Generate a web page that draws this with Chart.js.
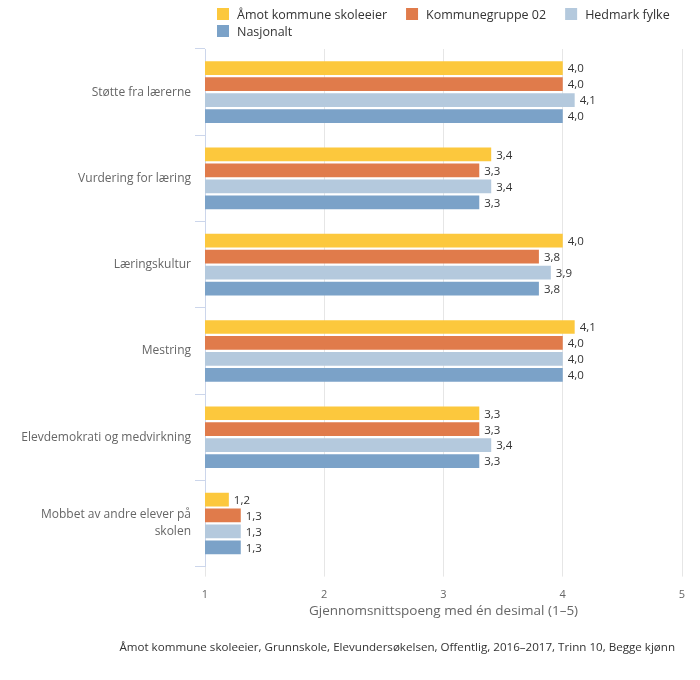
<!DOCTYPE html>
<html>
<head>
<meta charset="utf-8">
<script src="https://cdn.jsdelivr.net/npm/chart.js@4.4.1/dist/chart.umd.min.js"></script>
<style>
html,body{margin:0;padding:0;background:#fff;}
#wrap{width:700px;height:680px;position:relative;}
</style>
</head>
<body>
<div id="wrap"><canvas id="c" width="700" height="680"></canvas></div>
<script>
const categories = [
  'Støtte fra lærerne',
  'Vurdering for læring',
  'Læringskultur',
  'Mestring',
  'Elevdemokrati og medvirkning',
  ['Mobbet av andre elever på', 'skolen']
];
const seriesNames = ['Åmot kommune skoleeier', 'Kommunegruppe 02', 'Hedmark fylke', 'Nasjonalt'];
const amot = [4.0, 3.4, 4.0, 4.1, 3.3, 1.2];
const kommunegruppe = [4.0, 3.3, 3.8, 4.0, 3.3, 1.3];
const hedmark = [4.1, 3.4, 3.9, 4.0, 3.4, 1.3];
const nasjonalt = [4.0, 3.3, 3.8, 4.0, 3.3, 1.3];
const seriesColors = ['#fcc83d', '#e07b4b', '#b4c9dd', '#7ba2c8'];
const xTicks = [1, 2, 3, 4, 5];
const xTitle = 'Gjennomsnittspoeng med én desimal (1–5)';
const footerText = 'Åmot kommune skoleeier, Grunnskole, Elevundersøkelsen, Offentlig, 2016–2017, Trinn 10, Begge kjønn';

const FONT = "'Open Sans', 'DejaVu Sans', sans-serif";
const allSeries = [amot, kommunegruppe, hedmark, nasjonalt];

const fmt = v => v.toFixed(1).replace('.', ',');

const valueLabels = {
  id: 'valueLabels',
  afterDatasetsDraw(chart) {
    const ctx = chart.ctx;
    ctx.save();
    ctx.font = '11.5px ' + FONT;
    ctx.fillStyle = '#333333';
    ctx.textAlign = 'left';
    ctx.textBaseline = 'middle';
    chart.data.datasets.forEach((ds, i) => {
      const meta = chart.getDatasetMeta(i);
      meta.data.forEach((el, j) => {
        ctx.fillText(fmt(ds.data[j]), el.x + 5, el.y + 1);
      });
    });
    ctx.restore();
  }
};

const customLegend = {
  id: 'customLegend',
  afterDraw(chart) {
    const ctx = chart.ctx;
    ctx.save();
    ctx.font = '12.5px ' + FONT;
    ctx.textBaseline = 'middle';
    ctx.textAlign = 'left';
    const startX = chart.chartArea.left + 12;
    const maxX = chart.width - 15;
    let x = startX, y = 14;
    chart.data.datasets.forEach(ds => {
      const w = 20 + ctx.measureText(ds.label).width;
      if (x !== startX && x + w > maxX) { x = startX; y += 17; }
      ctx.fillStyle = ds.backgroundColor;
      ctx.fillRect(x, y - 6, 12, 12);
      ctx.fillStyle = '#333333';
      ctx.fillText(ds.label, x + 20, y + 1);
      x += w + 19;
    });
    // footer credit
    ctx.font = '11.6px ' + FONT;
    ctx.fillStyle = '#333333';
    ctx.textAlign = 'right';
    ctx.fillText(footerText, 675, 648);
    ctx.restore();
  }
};

new Chart(document.getElementById('c'), {
  type: 'bar',
  data: {
    labels: categories,
    datasets: seriesNames.map((n, i) => ({
      label: n,
      data: allSeries[i],
      backgroundColor: seriesColors[i],
      borderWidth: 0,
      categoryPercentage: 0.74,
      barPercentage: 0.86
    }))
  },
  options: {
    indexAxis: 'y',
    responsive: false,
    animation: false,
    devicePixelRatio: 1,
    layout: { padding: { top: 49, right: 18, bottom: 61, left: 0 } },
    plugins: {
      legend: { display: false },
      tooltip: { enabled: false },
      title: { display: false }
    },
    scales: {
      x: {
        type: 'linear',
        min: 1,
        max: 5,
        afterBuildTicks(scale) { scale.ticks = xTicks.map(v => ({ value: v })); },
        grid: { color: '#e6e6e6', tickLength: 10, drawTicks: true },
        border: { display: false },
        ticks: { color: '#666666', font: { size: 11, family: FONT }, padding: 12, callback: v => String(v) },
        title: { display: true, text: xTitle, color: '#666666', font: { size: 13.5, family: FONT }, padding: { top: -11, bottom: 0 } }
      },
      y: {
        type: 'category',
        afterFit(scale) { scale.width = 205; },
        grid: { drawOnChartArea: false, color: '#ccd6eb', tickLength: 10, offset: true },
        border: { display: true, color: '#ccd6eb' },
        ticks: { color: '#666666', font: { size: 12, family: FONT, lineHeight: 1.4 }, padding: 4 }
      }
    }
  },
  plugins: [valueLabels, customLegend]
});
</script>
</body>
</html>
